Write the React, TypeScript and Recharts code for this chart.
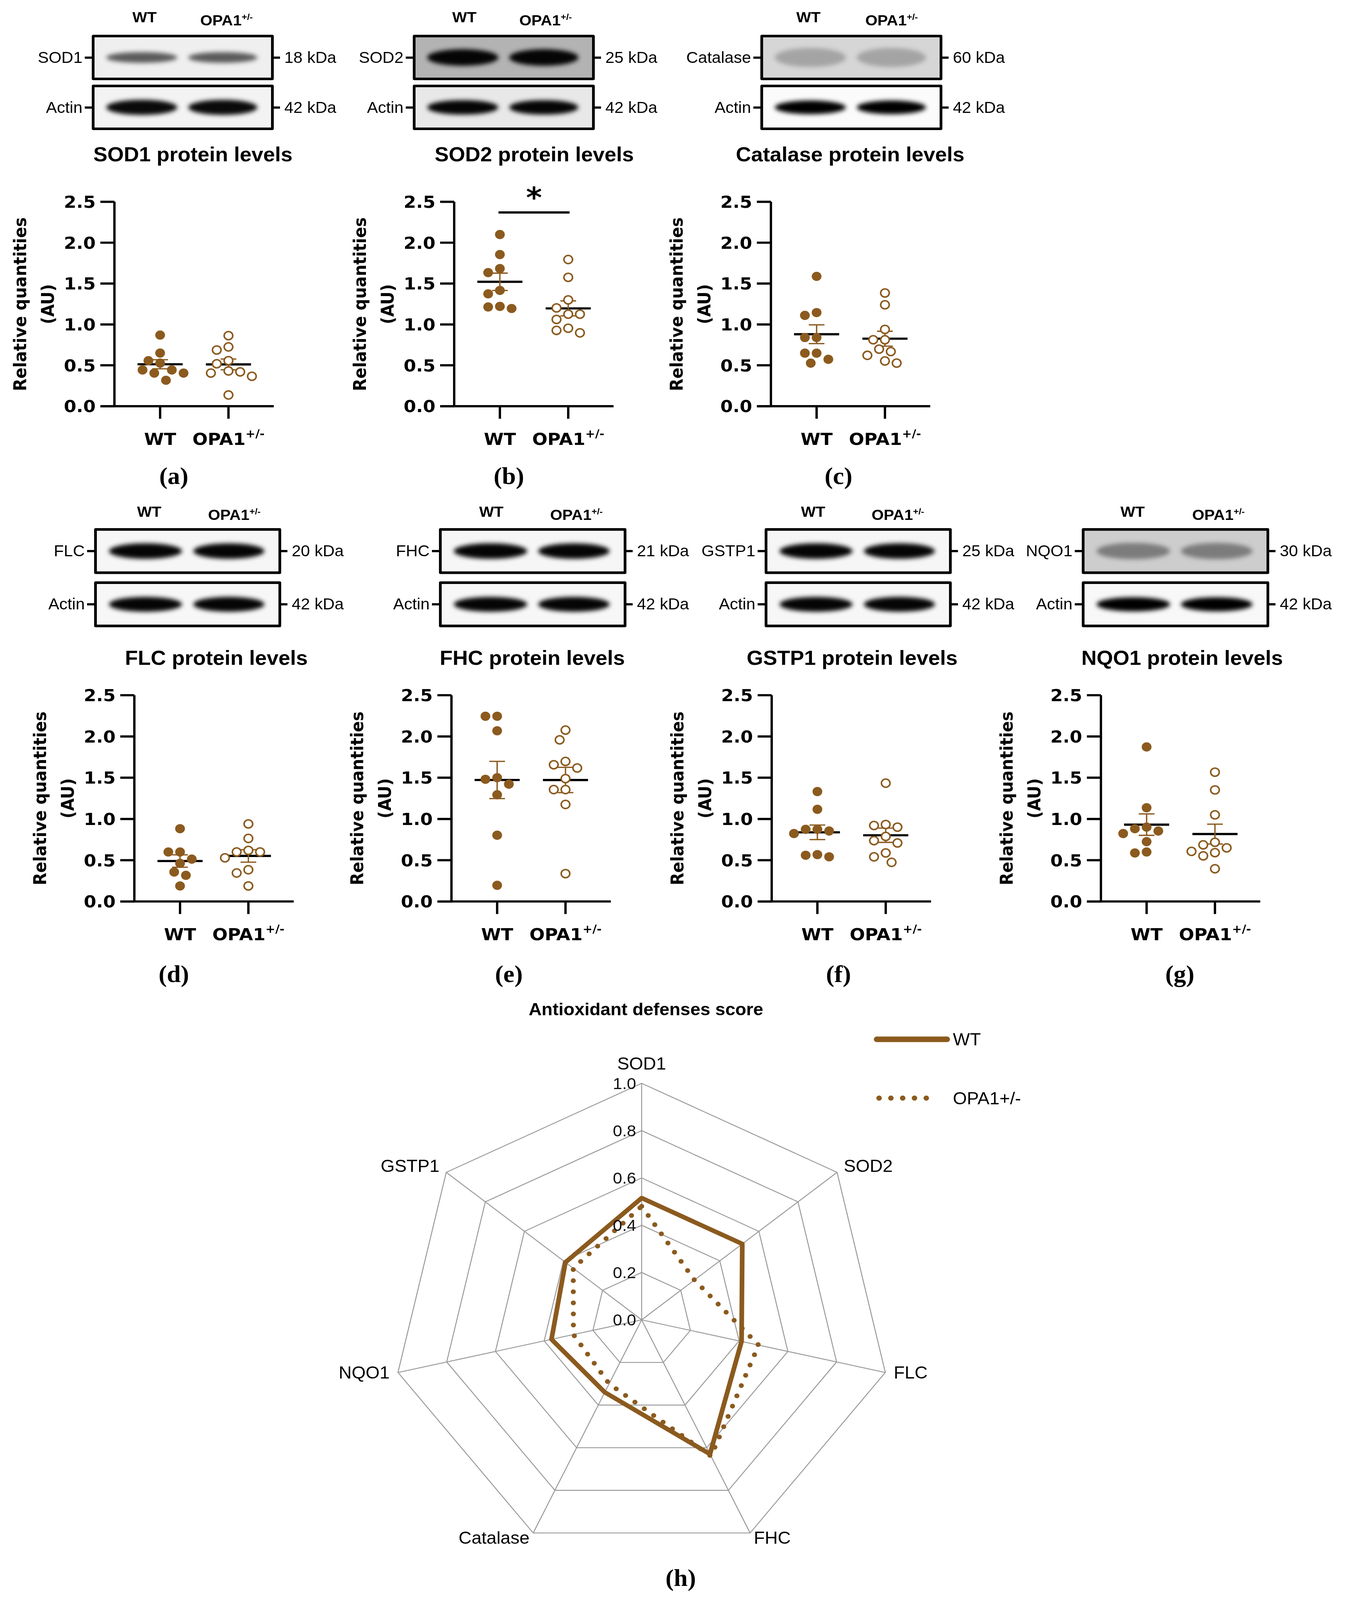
import React from "react";
import {
  ComposedChart,
  Scatter,
  XAxis,
  YAxis,
  ReferenceLine,
  ReferenceDot,
  RadarChart,
  Radar,
  PolarGrid,
  PolarAngleAxis,
  PolarRadiusAxis,
} from "recharts";

// ---- data ----
const groups = ["WT", "OPA1+/-"];
const yTicks = [0, 0.5, 1, 1.5, 2, 2.5];

const sod1Wt = [0.87, 0.65, 0.557, 0.527, 0.443, 0.443, 0.405, 0.405, 0.317];
const sod1Opa = [0.863, 0.725, 0.687, 0.557, 0.519, 0.431, 0.42, 0.405, 0.366, 0.137];
const sod2Wt = [2.1, 1.855, 1.683, 1.634, 1.416, 1.374, 1.221, 1.214, 1.195];
const sod2Opa = [1.794, 1.576, 1.3, 1.202, 1.126, 1.126, 1.061, 0.954, 0.927, 0.897];
const catWt = [1.588, 1.145, 1.111, 0.84, 0.84, 0.649, 0.649, 0.573, 0.527];
const catOpa = [1.385, 1.24, 0.939, 0.813, 0.813, 0.698, 0.668, 0.622, 0.553, 0.527];
const flcWt = [0.882, 0.6, 0.6, 0.513, 0.462, 0.357, 0.317, 0.188];
const flcOpa = [0.94, 0.764, 0.619, 0.6, 0.6, 0.529, 0.384, 0.345, 0.188];
const fhcWt = [2.245, 2.245, 2.069, 1.5, 1.481, 1.422, 1.293, 0.803, 0.196];
const fhcOpa = [2.077, 1.959, 1.697, 1.657, 1.618, 1.489, 1.356, 1.356, 1.176, 0.337];
const gstWt = [1.332, 1.117, 0.874, 0.874, 0.854, 0.823, 0.568, 0.56, 0.541];
const gstOpa = [1.434, 0.933, 0.921, 0.901, 0.788, 0.737, 0.709, 0.588, 0.541, 0.474];
const nqoWt = [1.873, 1.136, 0.901, 0.882, 0.854, 0.823, 0.725, 0.6, 0.588];
const nqoOpa = [1.567, 1.352, 1.05, 0.717, 0.686, 0.65, 0.607, 0.592, 0.553, 0.396];

const radarAxes = ["SOD1", "SOD2", "FLC", "FHC", "Catalase", "NQO1", "GSTP1"];
const wtScore = [0.515, 0.515, 0.41, 0.63, 0.34, 0.37, 0.39];
const opaScore = [0.48, 0.27, 0.48, 0.64, 0.3, 0.28, 0.35];
const radarTicks = [0, 0.2, 0.4, 0.6, 0.8, 1];

// ---- styling ----
const BROWN = "#8b5a1e";
const SANS = '"Liberation Sans", Arial, sans-serif';
const WIDE = '"DejaVu Sans", sans-serif';
const SERIF = '"Liberation Serif", "DejaVu Serif", serif';

// figure is laid out at 3444x4329; squeeze it to the real viewport height
const FIG_W = 3444;
const FIG_H = 4329;

const ROWS = [
  { yTop: 546, yBottom: 1099, headerY: 46, b1: [94, 217], b2: [229, 352], titleY: 418, letterY: 1288 },
  { yTop: 1881, yBottom: 2439, headerY: 1384, b1: [1429, 1553], b2: [1573, 1697], titleY: 1780, letterY: 2636 },
];

const darkBlot = { bg: "#f6f6f6", band: "#050505", bandH: 0.34, actinBg: "#f7f7f7", actinBand: "#050505", actinH: 0.32 };

const PANELS = [
  { key: "a", row: 0, axisX: 293, protein: "SOD1", kda: "18 kDa", title: "SOD1 protein levels", titleX: 494, box: [235, 701], hdr: [370, 580], letterX: 445, wt: sod1Wt, opa: sod1Opa,
    blot: { bg: "#efefef", band: "#5a5a5a", bandH: 0.24, actinBg: "#f3f3f3", actinBand: "#0a0a0a", actinH: 0.34 } },
  { key: "b", row: 0, axisX: 1163, protein: "SOD2", kda: "25 kDa", title: "SOD2 protein levels", titleX: 1368, box: [1057, 1523], hdr: [1189, 1397], letterX: 1303, wt: sod2Wt, opa: sod2Opa, sig: true,
    blot: { bg: "#b3b3b3", band: "#050505", bandH: 0.36, actinBg: "#e8e8e8", actinBand: "#050505", actinH: 0.32 } },
  { key: "c", row: 0, axisX: 1974, protein: "Catalase", kda: "60 kDa", title: "Catalase protein levels", titleX: 2177, box: [1947, 2413], hdr: [2070, 2283], letterX: 2147, wt: catWt, opa: catOpa,
    blot: { bg: "#d6d6d6", band: "#a4a4a4", bandH: 0.42, actinBg: "#fbfbfb", actinBand: "#000", actinH: 0.3 } },
  { key: "d", row: 1, axisX: 344, protein: "FLC", kda: "20 kDa", title: "FLC protein levels", titleX: 554, box: [241, 720], hdr: [382, 600], letterX: 445, wt: flcWt, opa: flcOpa, blot: darkBlot },
  { key: "e", row: 1, axisX: 1156, protein: "FHC", kda: "21 kDa", title: "FHC protein levels", titleX: 1363, box: [1124, 1604], hdr: [1258, 1476], letterX: 1303, wt: fhcWt, opa: fhcOpa, blot: darkBlot },
  { key: "f", row: 1, axisX: 1976, protein: "GSTP1", kda: "25 kDa", title: "GSTP1 protein levels", titleX: 2182, box: [1958, 2437], hdr: [2082, 2299], letterX: 2147, wt: gstWt, opa: gstOpa, blot: darkBlot },
  { key: "g", row: 1, axisX: 2819, protein: "NQO1", kda: "30 kDa", title: "NQO1 protein levels", titleX: 3027, box: [2770, 3250], hdr: [2900, 3120], letterX: 3021, wt: nqoWt, opa: nqoOpa,
    blot: { bg: "#cdcdcd", band: "#7c7c7c", bandH: 0.36, actinBg: "#f8f8f8", actinBand: "#000", actinH: 0.3 } },
];

const PX_PER_X = 175;
const X0 = 1 - 117 / PX_PER_X;
const PLOT_W = 408;
const X1 = X0 + PLOT_W / PX_PER_X;

// simple beeswarm: keeps dots from overlapping around the group centre
function swarm(values: number[], center: number, pxPerY: number) {
  const step = 15;
  const diam = 27;
  const placed: { px: number; py: number; v: number }[] = [];
  [...values].sort((a, b) => b - a).forEach((v) => {
    const py = v * pxPerY;
    let off = 0;
    for (let k = 0; k < 60; k++) {
      const cand = k === 0 ? 0 : (k % 2 ? -1 : 1) * Math.ceil(k / 2) * step;
      if (placed.every((p) => Math.hypot(p.px - cand, p.py - py) >= diam)) {
        off = cand;
        break;
      }
    }
    placed.push({ px: off, py, v });
  });
  return placed.map((p) => ({ x: center + p.px / PX_PER_X, y: p.v }));
}

function meanSem(values: number[]) {
  const n = values.length;
  const m = values.reduce((s, v) => s + v, 0) / n;
  const sd = Math.sqrt(values.reduce((s, v) => s + (v - m) ** 2, 0) / (n - 1));
  return { m, sem: sd / Math.sqrt(n) };
}

function Txt({ x, y, size, children, weight = "normal", family = SANS, anchor = "middle" }: any) {
  const tx = anchor === "middle" ? "-50%" : anchor === "end" ? "-100%" : "0";
  return (
    <div
      style={{
        position: "absolute",
        left: x,
        top: y - size / 2,
        transform: `translateX(${tx})`,
        fontSize: size,
        lineHeight: `${size}px`,
        fontWeight: weight,
        fontFamily: family,
        whiteSpace: "nowrap",
        color: "#000",
      }}
    >
      {children}
    </div>
  );
}

function GroupLabel({ size, sup }: { size: number; sup: number }) {
  return (
    <span>
      OPA1<span style={{ fontSize: sup, verticalAlign: size * 0.38 }}>+/-</span>
    </span>
  );
}

function BlotBox({ x0, x1, y0, y1, bg, band, bandH }: any) {
  const w = x1 - x0;
  const h = y1 - y0;
  const lanes = [
    [0.08, 0.47],
    [0.53, 0.91],
  ];
  return (
    <div
      style={{
        position: "absolute",
        left: x0,
        top: y0,
        width: w,
        height: h,
        boxSizing: "border-box",
        border: "7px solid #000",
        borderRadius: 4,
        background: bg,
        overflow: "hidden",
      }}
    >
      {lanes.map(([a, b], i) => (
        <div
          key={i}
          style={{
            position: "absolute",
            left: a * w - 7,
            width: (b - a) * w,
            top: h / 2 - 7 - (bandH * h) / 2,
            height: bandH * h,
            background: band,
            borderRadius: "50%",
            filter: "blur(6px)",
          }}
        />
      ))}
    </div>
  );
}

function BlotPanel({ p }: any) {
  const r = ROWS[p.row];
  const [bx0, bx1] = p.box;
  const rows = [
    { name: p.protein, kda: p.kda, y: r.b1, bg: p.blot.bg, band: p.blot.band, bandH: p.blot.bandH },
    { name: "Actin", kda: "42 kDa", y: r.b2, bg: p.blot.actinBg, band: p.blot.actinBand, bandH: p.blot.actinH },
  ];
  return (
    <>
      <Txt x={p.hdr[0]} y={r.headerY} size={40} weight="bold">WT</Txt>
      <Txt x={p.hdr[1]} y={r.headerY} size={40} weight="bold">
        <GroupLabel size={40} sup={24} />
      </Txt>
      {rows.map((row) => {
        const cy = (row.y[0] + row.y[1]) / 2;
        return (
          <React.Fragment key={row.name}>
            <BlotBox x0={bx0} x1={bx1} y0={row.y[0]} y1={row.y[1]} bg={row.bg} band={row.band} bandH={row.bandH} />
            <div style={{ position: "absolute", left: bx0 - 18, top: cy - 3, width: 18, height: 6, background: "#000" }} />
            <div style={{ position: "absolute", left: bx1, top: cy - 3, width: 16, height: 6, background: "#000" }} />
            <Txt x={bx0 - 24} y={cy} size={42} anchor="end">{row.name}</Txt>
            <Txt x={bx1 + 27} y={cy} size={42} anchor="start">{row.kda}</Txt>
          </React.Fragment>
        );
      })}
      <Txt x={p.titleX} y={r.titleY} size={54} weight="bold">{p.title}</Txt>
      <Txt x={p.letterX} y={r.letterY} size={64} weight="bold" family={SERIF}>({p.key})</Txt>
    </>
  );
}

const XTick = (props: any) => {
  const { x, y, payload } = props;
  const label = groups[payload.value - 1];
  return (
    <text x={x} y={y + 71} textAnchor="middle" fontFamily={WIDE} fontWeight="bold" fontSize={46} fill="#000">
      {label === "WT" ? (
        "WT"
      ) : (
        <>
          <tspan>OPA1</tspan>
          <tspan fontSize={30} dy={-20}>+/-</tspan>
        </>
      )}
    </text>
  );
};

function DotPlot({ p }: any) {
  const r = ROWS[p.row];
  const H = r.yBottom - r.yTop;
  const TOP = 140;
  const LEFT = 190;
  const RIGHT = 20;
  const BOTTOM = 160;
  const pxPerY = H / 2.5;
  const wtPts = swarm(p.wt, 1, pxPerY);
  const opaPts = swarm(p.opa, 2, pxPerY);
  const stats = [
    { c: 1, ...meanSem(p.wt) },
    { c: 2, ...meanSem(p.opa) },
  ];
  return (
    <div style={{ position: "absolute", left: p.axisX - LEFT, top: r.yTop - TOP }}>
      <ComposedChart
        width={LEFT + PLOT_W + RIGHT}
        height={TOP + H + BOTTOM}
        margin={{ top: TOP, right: RIGHT, left: 0, bottom: 0 }}
      >
        <XAxis
          type="number"
          dataKey="x"
          domain={[X0, X1]}
          ticks={[1, 2]}
          interval={0}
          allowDataOverflow
          axisLine={false}
          tickLine={{ stroke: "#000", strokeWidth: 6 }}
          tickSize={34}
          tickMargin={0}
          height={BOTTOM}
          tick={<XTick />}
        />
        <YAxis
          type="number"
          dataKey="y"
          domain={[0, 2.5]}
          ticks={yTicks}
          interval={0}
          allowDataOverflow
          width={LEFT}
          axisLine={{ stroke: "#000", strokeWidth: 6 }}
          tickLine={{ stroke: "#000", strokeWidth: 6 }}
          tickSize={36}
          tickMargin={12}
          tick={{ fill: "#000", fontFamily: WIDE, fontWeight: "bold", fontSize: 46 }}
          tickFormatter={(v: number) => v.toFixed(1)}
        />
        <ReferenceLine
          segment={[{ x: X0 - 36 / PX_PER_X, y: 0 }, { x: X1, y: 0 }]}
          stroke="#000"
          strokeWidth={6}
          ifOverflow="visible"
        />
        <Scatter
          data={wtPts}
          isAnimationActive={false}
          shape={(s: any) => <circle cx={s.cx} cy={s.cy} r={12.5} fill={BROWN} />}
        />
        <Scatter
          data={opaPts}
          isAnimationActive={false}
          shape={(s: any) => <circle cx={s.cx} cy={s.cy} r={11} fill="#fff" stroke={BROWN} strokeWidth={4} />}
        />
        {stats.map((s) => (
          <ReferenceLine
            key={`m${s.c}`}
            segment={[{ x: s.c - 0.33, y: s.m }, { x: s.c + 0.33, y: s.m }]}
            stroke="#000"
            strokeWidth={6}
          />
        ))}
        {stats.map((s) => (
          <ReferenceLine
            key={`v${s.c}`}
            segment={[{ x: s.c, y: s.m - s.sem }, { x: s.c, y: s.m + s.sem }]}
            stroke={BROWN}
            strokeWidth={3.5}
          />
        ))}
        {stats.flatMap((s) =>
          [s.m - s.sem, s.m + s.sem].map((y, i) => (
            <ReferenceLine
              key={`c${s.c}${i}`}
              segment={[{ x: s.c - 0.115, y }, { x: s.c + 0.115, y }]}
              stroke={BROWN}
              strokeWidth={3.5}
            />
          ))
        )}
        {p.sig && (
          <ReferenceLine
            segment={[{ x: 0.98, y: 2.37 }, { x: 2.02, y: 2.37 }]}
            stroke="#000"
            strokeWidth={6}
            ifOverflow="visible"
          />
        )}
        {p.sig && (
          <ReferenceDot
            x={1.5}
            y={2.61}
            r={0}
            ifOverflow="visible"
            shape={(s: any) => (
              <text x={s.cx} y={s.cy + 40} textAnchor="middle" fontFamily={WIDE} fontWeight="bold" fontSize={78} fill="#000">
                *
              </text>
            )}
          />
        )}
      </ComposedChart>
      <div
        style={{
          position: "absolute",
          left: LEFT - 206,
          top: TOP + H / 2,
          transform: "translate(-50%, -50%) rotate(-90deg)",
          textAlign: "center",
          fontFamily: WIDE,
          fontWeight: "bold",
          fontSize: 44,
          lineHeight: "71px",
          whiteSpace: "nowrap",
        }}
      >
        Relative quantities
        <br />
        (AU)
      </div>
    </div>
  );
}

// ---- radar ----
const R_LEFT = 800;
const R_TOP = 2700;
const R_CX = 843;
const R_CY = 871;
const R_OUT = 640;

const radarData = radarAxes.map((axis, i) => ({ axis, wt: wtScore[i], opa: opaScore[i] }));

const radarSeries = [
  { key: "wt", name: "WT", dash: undefined as string | undefined, width: 12 },
  { key: "opa", name: "OPA1+/-", dash: "0 30", width: 13 },
];

const AngleTick = (props: any) => {
  const { x, y, payload } = props;
  const dx = x - R_CX;
  const dy = y - R_CY;
  const len = Math.hypot(dx, dy) || 1;
  const ux = dx / len;
  const uy = dy / len;
  const vx = R_CX + ux * R_OUT;
  const vy = R_CY + uy * R_OUT;
  let tx = vx;
  let ty = vy;
  let anchor = "middle";
  if (Math.abs(ux) < 0.1) {
    ty = vy - 54;
  } else {
    anchor = ux > 0 ? "start" : "end";
    tx = vx + (ux > 0 ? 1 : -1) * 22 * Math.abs(ux);
    ty = vy + 20 * uy - 5;
  }
  return (
    <text x={tx} y={ty} dy="0.36em" textAnchor={anchor} fontFamily={SANS} fontSize={46} fill="#000">
      {payload.value}
    </text>
  );
};

const RadiusTick = (props: any) => {
  const { x, y, payload } = props;
  return (
    <text x={x - 14} y={y} dy="0.36em" textAnchor="end" fontFamily={SANS} fontSize={43} fill="#111">
      {Number(payload.value).toFixed(1)}
    </text>
  );
};

function RadarPanel() {
  return (
    <>
      <Txt x={1654} y={2731} size={46} weight="bold">Antioxidant defenses score</Txt>
      <div style={{ position: "absolute", left: R_LEFT, top: R_TOP }}>
        <RadarChart
          width={1900}
          height={1540}
          cx={R_CX}
          cy={R_CY}
          outerRadius={R_OUT}
          data={radarData}
          startAngle={90}
          endAngle={-270}
          margin={{ top: 0, right: 0, bottom: 0, left: 0 }}
        >
          <PolarGrid gridType="polygon" stroke="#9a9a9a" strokeWidth={2.5} />
          <PolarAngleAxis dataKey="axis" tick={<AngleTick />} tickLine={false} axisLine={false} />
          <PolarRadiusAxis
            type="number"
            angle={90}
            domain={[0, 1]}
            ticks={radarTicks}
            tickCount={radarTicks.length}
            axisLine={false}
            tickLine={false}
            tick={<RadiusTick />}
          />
          {radarSeries.map((s) => (
            <Radar
              key={s.key}
              dataKey={s.key}
              name={s.name}
              stroke={BROWN}
              strokeWidth={s.width}
              strokeDasharray={s.dash}
              strokeLinecap="round"
              strokeLinejoin="round"
              fill="none"
              fillOpacity={0}
              dot={false}
              isAnimationActive={false}
            />
          ))}
        </RadarChart>
      </div>
      <svg style={{ position: "absolute", left: 2230, top: 2780 }} width={460} height={230}>
        {radarSeries.map((s, i) => (
          <g key={s.key}>
            <line
              x1={s.dash ? 21 : 15}
              x2={s.dash ? 172 : 195}
              y1={32 + i * 159}
              y2={32 + i * 159}
              stroke={BROWN}
              strokeWidth={s.dash ? 14 : 15}
              strokeLinecap="round"
              strokeDasharray={s.dash ? "0 30.2" : undefined}
            />
            <text x={210} y={32 + i * 159} dy="0.36em" fontFamily={SANS} fontSize={46} fill="#000">
              {s.name}
            </text>
          </g>
        ))}
      </svg>
      <Txt x={1743} y={4270} size={64} weight="bold" family={SERIF}>(h)</Txt>
    </>
  );
}

export default function App() {
  const vh = typeof window !== "undefined" ? window.innerHeight : FIG_H;
  const sy = Math.min(1, vh / FIG_H);
  return (
    <div
      style={{
        position: "absolute",
        left: 0,
        top: 0,
        width: FIG_W,
        height: FIG_H,
        background: "#fff",
        overflow: "hidden",
        fontFamily: SANS,
        transform: `scale(1, ${sy})`,
        transformOrigin: "0 0",
      }}
    >
      {PANELS.map((p) => (
        <React.Fragment key={p.key}>
          <BlotPanel p={p} />
          <DotPlot p={p} />
        </React.Fragment>
      ))}
      <RadarPanel />
    </div>
  );
}
